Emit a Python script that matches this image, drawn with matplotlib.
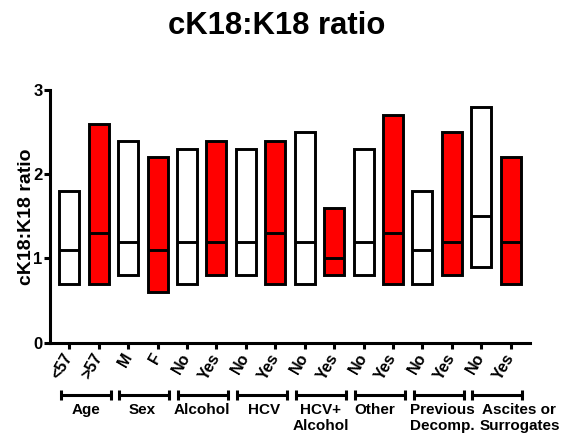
import matplotlib.pyplot as plt
import matplotlib.transforms as mtransforms
import numpy as np

plt.rcParams['font.family'] = ['Liberation Sans', 'DejaVu Sans']
plt.rcParams['font.weight'] = 'bold'

# floating bars: 25th percentile, median, 75th percentile
etiquetas = ['<57', '>57', 'M', 'F', 'No', 'Yes', 'No', 'Yes',
             'No', 'Yes', 'No', 'Yes', 'No', 'Yes', 'No', 'Yes']
bajo = [0.7, 0.7, 0.8, 0.6, 0.7, 0.8, 0.8, 0.7,
        0.7, 0.8, 0.8, 0.7, 0.7, 0.8, 0.9, 0.7]
mediana = [1.1, 1.3, 1.2, 1.1, 1.2, 1.2, 1.2, 1.3,
           1.2, 1.0, 1.2, 1.3, 1.1, 1.2, 1.5, 1.2]
alto = [1.8, 2.6, 2.4, 2.2, 2.3, 2.4, 2.3, 2.4,
        2.5, 1.6, 2.3, 2.7, 1.8, 2.5, 2.8, 2.2]
grupos = ['Age', 'Sex', 'Alcohol', 'HCV', 'HCV+\nAlcohol', 'Other',
          'Previous\nDecomp.', 'Ascites or\nSurrogates']
# nudge of each group name from the centre of its bracket
desplaz = [0.03, -0.08, -0.05, 0.06, -0.01, -0.17, 0.12, 0.75]

fig = plt.figure(figsize=(5.62, 4.37), dpi=100)
ax = fig.add_axes([0.089, 0.216, 0.854, 0.578])

x = np.arange(len(etiquetas))
ancho = 0.68
colores = ['white' if i % 2 == 0 else '#ff0000' for i in range(len(x))]
alturas = np.array(alto) - np.array(bajo)
ax.bar(x, alturas, bottom=bajo, width=ancho, color=colores,
       edgecolor='black', linewidth=2.1, zorder=2)
ax.hlines(mediana, x - ancho / 2, x + ancho / 2, color='black',
          linewidth=2.1, zorder=3)

ax.set_xlim(-0.66, 15.66)
ax.set_ylim(0, 3)
ax.set_yticks([0, 1, 2, 3])
ax.set_xticks(x)
ax.set_xticklabels(etiquetas, rotation=60, ha='right', va='center',
                   rotation_mode='anchor', fontsize=11.5, fontweight='bold')
ax.tick_params(axis='both', width=2.2, length=4.5)
ax.tick_params(axis='y', labelsize=12, pad=1)
ax.tick_params(axis='x', pad=4)
for lab in ax.get_yticklabels():
    lab.set_fontweight('bold')

for lado in ['top', 'right']:
    ax.spines[lado].set_visible(False)
for lado in ['left', 'bottom']:
    ax.spines[lado].set_linewidth(2.2)

ax.set_ylabel('cK18:K18 ratio', fontsize=14, fontweight='bold', labelpad=-1)
fig.text(0.492, 0.975, 'cK18:K18 ratio', ha='center', va='top',
         fontsize=22.3, fontweight='bold')

# brackets under each pair of bars
trans = mtransforms.blended_transform_factory(ax.transData, ax.transAxes)
yb = -0.207
cap = 0.02
for i, g in enumerate(grupos):
    x0 = 2 * i - 0.3
    x1 = 2 * i + 1.4
    ax.plot([x0, x1], [yb, yb], color='black', lw=2.2, transform=trans,
            clip_on=False, solid_capstyle='butt')
    for xc in (x0, x1):
        ax.plot([xc, xc], [yb - cap, yb + cap], color='black', lw=2.2,
                transform=trans, clip_on=False, solid_capstyle='butt')
    ax.text((x0 + x1) / 2 + desplaz[i], -0.24, g, transform=trans,
            ha='center', va='top', fontsize=11, fontweight='bold',
            linespacing=1.15)

fig.savefig('out.png', dpi=100)
